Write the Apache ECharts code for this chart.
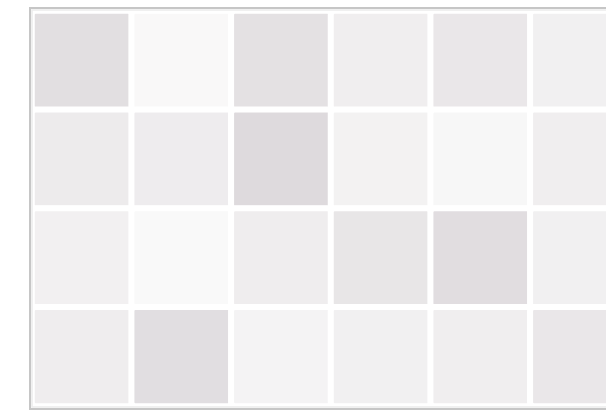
<!DOCTYPE html>
<html>
<head>
<meta charset="utf-8">
<script src="https://cdn.jsdelivr.net/npm/echarts@6/dist/echarts.min.js"></script>
<style>
html,body{margin:0;padding:0;overflow:hidden;background:#fff;width:606px;height:414px;}
#main{width:640px;height:414px;}
</style>
</head>
<body>
<div id="main"></div>
<script>
const xCategories = ['C1','C2','C3','C4','C5','C6'];
const yCategories = ['R1','R2','R3','R4'];
const row1 = [80, 5, 75, 35, 55, 30];
const row2 = [45, 40, 95, 25, 10, 35];
const row3 = [28, 3, 38, 60, 85, 30];
const row4 = [38, 82, 20, 30, 35, 55];
const rows = [row1, row2, row3, row4];

const data = [];
rows.forEach((r, yi) => {
  r.forEach((v, xi) => {
    data.push([xi, yCategories.length - 1 - yi, v]);
  });
});

const chart = echarts.init(document.getElementById('main'), null, {renderer: 'canvas'});
chart.setOption({
  animation: false,
  backgroundColor: '#ffffff',
  grid: {
    left: 32, top: 11, right: 10, bottom: 8,
    show: false
  },
  xAxis: {type: 'category', data: xCategories, show: false},
  yAxis: {type: 'category', data: yCategories.slice().reverse(), show: false},
  visualMap: {
    show: false, min: 0, max: 100,
    inRange: {color: ['#fafafa', '#dcd8db']}
  },
  graphic: [{
    type: 'rect', z: 100, silent: true,
    shape: {x: 30, y: 8, width: 700, height: 401},
    style: {fill: 'none', stroke: '#c6c6c6', lineWidth: 2}
  }, {
    type: 'rect', z: 99, silent: true,
    shape: {x: 32, y: 10, width: 700, height: 397},
    style: {fill: 'none', stroke: '#ececec', lineWidth: 1.5}
  }],
  series: [{
    type: 'heatmap',
    data: data,
    itemStyle: {borderColor: '#ffffff', borderWidth: 6, borderRadius: 4},
    emphasis: {disabled: true}
  }]
});
</script>
</body>
</html>
